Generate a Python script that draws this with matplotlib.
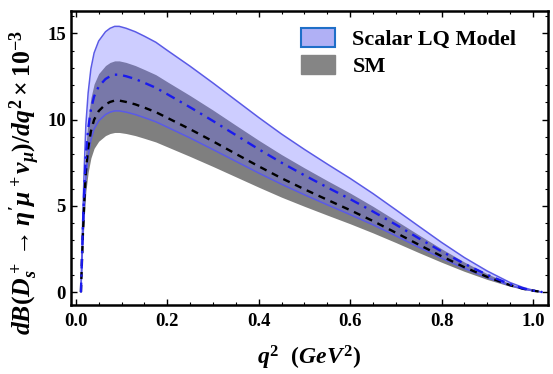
import matplotlib
matplotlib.use('Agg')
import matplotlib.pyplot as plt
from matplotlib.patches import Patch
from matplotlib.ticker import MultipleLocator

plt.rcParams['font.family'] = 'Liberation Serif'
plt.rcParams['font.weight'] = 'bold'
plt.rcParams['mathtext.fontset'] = 'custom'
plt.rcParams['mathtext.it'] = 'Liberation Serif:italic:bold'
plt.rcParams['mathtext.rm'] = 'Liberation Serif:bold'
plt.rcParams['mathtext.bf'] = 'Liberation Serif:bold'

# q^2 grid (GeV^2) and curves (x 10^-3)
q2 = [0.0112, 0.013, 0.0155, 0.0185, 0.022, 0.027, 0.033, 0.04, 0.05, 0.065, 0.075, 0.085,
      0.095, 0.11, 0.13, 0.15, 0.175, 0.2, 0.25, 0.3, 0.35, 0.4, 0.45, 0.5, 0.55, 0.6,
      0.65, 0.7, 0.75, 0.8, 0.85, 0.9, 0.95, 0.98, 1.0, 1.02]

lq_hi = [0, 2.00, 4.62, 7.24, 9.70, 11.55, 12.94, 13.86, 14.55, 15.09, 15.29, 15.40,
         15.40, 15.29, 15.09, 14.83, 14.48, 14.01, 13.09, 12.12, 11.12, 10.12, 9.16, 8.27, 7.42, 6.59,
         5.71, 4.77, 3.82, 2.88, 2.00, 1.22, 0.55, 0.25, 0.11, 0]
lq_mid = [0, 1.64, 3.78, 5.92, 7.94, 9.45, 10.58, 11.34, 11.91, 12.35, 12.51, 12.60,
          12.60, 12.51, 12.35, 12.13, 11.84, 11.47, 10.71, 9.92, 9.10, 8.28, 7.50, 6.77, 6.07, 5.39,
          4.67, 3.91, 3.12, 2.36, 1.64, 1.00, 0.45, 0.20, 0.09, 0]
lq_lo = [0, 1.37, 3.15, 4.94, 6.62, 7.88, 8.82, 9.45, 9.92, 10.29, 10.43, 10.50,
         10.50, 10.43, 10.29, 10.11, 9.87, 9.56, 8.93, 8.26, 7.58, 6.90, 6.25, 5.64, 5.06, 4.49,
         3.90, 3.26, 2.60, 1.96, 1.37, 0.83, 0.38, 0.17, 0.07, 0]

sm_hi = [0, 1.74, 4.02, 6.30, 8.44, 10.05, 11.26, 12.06, 12.66, 13.13, 13.31, 13.40,
         13.40, 13.31, 13.13, 12.90, 12.60, 12.19, 11.39, 10.55, 9.67, 8.80, 7.97, 7.20, 6.46, 5.74,
         4.97, 4.15, 3.32, 2.51, 1.74, 1.06, 0.48, 0.21, 0.09, 0]
sm_mid = [0, 1.44, 3.33, 5.22, 6.99, 8.33, 9.32, 9.99, 10.49, 10.88, 11.02, 11.10,
          11.10, 11.02, 10.88, 10.69, 10.43, 10.10, 9.44, 8.74, 8.01, 7.29, 6.60, 5.96, 5.35, 4.75,
          4.12, 3.44, 2.75, 2.08, 1.44, 0.88, 0.40, 0.18, 0.08, 0]
sm_lo = [0, 1.20, 2.78, 4.35, 5.83, 6.94, 7.77, 8.33, 8.74, 9.07, 9.19, 9.25,
         9.25, 9.19, 9.07, 8.91, 8.70, 8.42, 7.86, 7.28, 6.68, 6.08, 5.50, 4.97, 4.46, 3.96,
         3.43, 2.87, 2.29, 1.73, 1.20, 0.73, 0.33, 0.15, 0.06, 0]

fig = plt.figure(figsize=(5.53, 3.74), dpi=100)
ax = fig.add_axes([0.128, 0.1845, 0.863, 0.7865])

# SM band (grey) then LQ band (translucent blue) on top
ax.fill_between(q2, sm_lo, sm_hi, color='#7f7f7f', lw=0)
ax.fill_between(q2, lq_lo, lq_hi, color='#6a6aff', alpha=0.33, lw=0)
ax.plot(q2, lq_hi, color='#5a5ae6', lw=1.1)
ax.plot(q2, lq_lo, color='#5a5ae6', lw=1.1)
ax.plot(q2, sm_mid, color='black', lw=1.7, ls=(0, (3, 2.5)))
ax.plot(q2, lq_mid, color='#1a1aee', lw=1.7, ls=(0, (4, 2.5, 1, 2.5)))

ax.set_xlim(-0.011, 1.033)
ax.set_ylim(-0.75, 16.3)
ax.xaxis.set_major_locator(MultipleLocator(0.2))
ax.xaxis.set_minor_locator(MultipleLocator(0.05))
ax.yaxis.set_major_locator(MultipleLocator(5))
ax.yaxis.set_minor_locator(MultipleLocator(1))
ax.tick_params(which='both', direction='in', top=True, right=True, labelsize=13.5)
ax.tick_params(which='major', length=4, width=1)
ax.tick_params(which='minor', length=2, width=0.8)
ax.tick_params(axis='x', pad=6)
ax.set_xticks([0.0, 0.2, 0.4, 0.6, 0.8, 1.0])
ax.set_xticklabels(['0.0', '0.2', '0.4', '0.6', '0.8', '1.0'])
for s in ax.spines.values():
    s.set_linewidth(1.8)

ax.set_xlabel(r'$q^2\ \ (GeV^2)$', fontsize=17, labelpad=10)
ax.set_ylabel(r"$dB(D_s^+\rightarrow \eta' \mu^+ \nu_\mu)/dq^2 \times 10^{-3}$", fontsize=18.5)
ax.yaxis.set_label_coords(-0.06, 0.415)

handles = [Patch(facecolor='#b0b0f5', edgecolor='#1f6fc8', lw=1.5, label='Scalar LQ Model'),
           Patch(facecolor='#858585', edgecolor='#858585', label='SM')]
fig.legend(handles=handles, loc='upper left', bbox_to_anchor=(0.545, 0.925), frameon=False,
           prop={'family': 'Liberation Serif', 'weight': 'bold', 'size': 16},
           handlelength=1.5, handleheight=0.95, labelspacing=0.22, handletextpad=0.8,
           borderpad=0, borderaxespad=0)

fig.savefig('out.png', dpi=100)
